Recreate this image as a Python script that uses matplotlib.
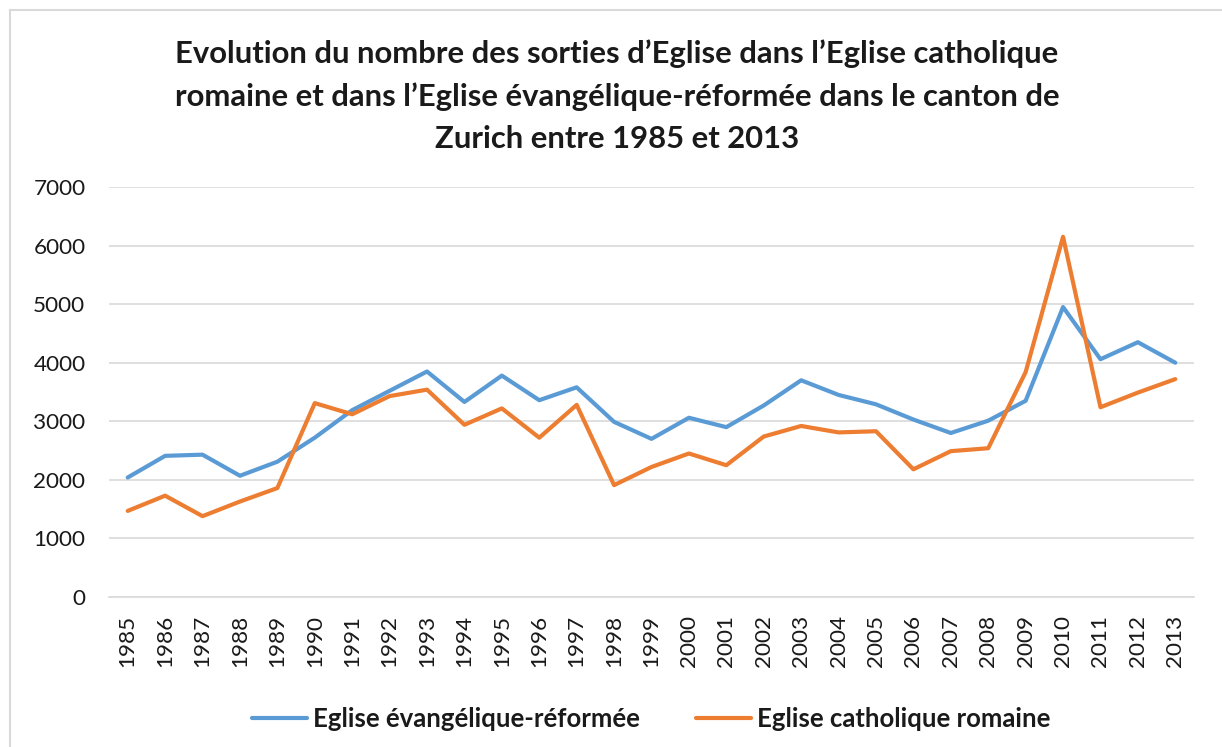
import matplotlib
matplotlib.use("Agg")
import matplotlib.pyplot as plt
from matplotlib.lines import Line2D

years = [str(y) for y in range(1985, 2014)]
reformee = [2040, 2410, 2430, 2070, 2310, 2720, 3190, 3520, 3850, 3330,
            3780, 3360, 3580, 2990, 2700, 3060, 2900, 3270, 3700, 3450,
            3290, 3030, 2800, 3010, 3350, 4950, 4060, 4350, 4000]
catholique = [1470, 1730, 1380, 1630, 1860, 3310, 3120, 3430, 3540, 2940,
              3220, 2720, 3280, 1910, 2220, 2450, 2250, 2740, 2920, 2810,
              2830, 2180, 2490, 2540, 3840, 6150, 3240, 3490, 3720]
labels = ["Eglise évangélique-réformée", "Eglise catholique romaine"]
title = ("Evolution du nombre des sorties d\u2019Eglise dans l\u2019Eglise catholique\n"
         "romaine et dans l\u2019Eglise évangélique-réformée dans le canton de\n"
         "Zurich entre 1985 et 2013")
yticks = [0, 1000, 2000, 3000, 4000, 5000, 6000, 7000]

BLUE = "#5B9BD5"
ORANGE = "#ED7D31"
GRID = "#D9D9D9"
TXT = "#1A1A1A"

plt.rcParams['font.family'] = ['Lato', 'DejaVu Sans']

W, H = 1222, 747
fig = plt.figure(figsize=(W / 100, H / 100), dpi=100)
fig.patch.set_facecolor("white")

# chart frame (top and left edges visible)
fig.add_artist(Line2D([10 / W, 1.0], [1 - 10 / H, 1 - 10 / H], color=GRID, lw=1.5,
                      transform=fig.transFigure))
fig.add_artist(Line2D([10 / W, 10 / W], [0, 1 - 10 / H], color=GRID, lw=1.5,
                      transform=fig.transFigure))

left, right = 109 / W, 1194 / W
bottom, top = 1 - 597 / H, 1 - 187 / H
ax = fig.add_axes([left, bottom, right - left, top - bottom])

x = list(range(len(years)))
ax.plot(x, reformee, color=BLUE, lw=3.0, solid_joinstyle="round",
        solid_capstyle="round", label=labels[0], zorder=3)
ax.plot(x, catholique, color=ORANGE, lw=3.0, solid_joinstyle="round",
        solid_capstyle="round", label=labels[1], zorder=3)

ax.set_xlim(-0.5, len(years) - 0.5)
ax.set_ylim(0, 7000)
ax.set_yticks(yticks)
ax.set_yticklabels([str(v) for v in yticks])
ax.set_xticks(x)
ax.set_xticklabels(years, rotation=90)
ax.grid(axis="y", color=GRID, lw=1.2)
ax.set_axisbelow(True)
for s in ax.spines.values():
    s.set_visible(False)
ax.spines["bottom"].set_visible(True)
ax.spines["bottom"].set_color(GRID)
ax.spines["bottom"].set_linewidth(1.2)
ax.tick_params(axis="both", length=0, labelsize=16.2, colors=TXT)
ax.tick_params(axis="y", pad=17)
ax.tick_params(axis="x", pad=13)

fig.text(617 / W, 1 - 39 / H, title, ha="center", va="top", fontsize=22.3,
         fontweight="bold", color=TXT, linespacing=1.62)

fig.legend(loc="center", bbox_to_anchor=(651 / W, 1 - 719 / H), ncol=2,
           frameon=False, prop={"size": 18.5, "weight": "bold"},
           handlelength=2.15, handletextpad=0.22, columnspacing=2.2,
           labelcolor=TXT)

fig.savefig("out.png", dpi=100, facecolor="white")
